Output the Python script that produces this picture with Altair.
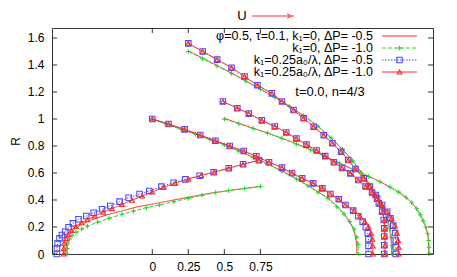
import altair as alt
import pandas as pd

# ---------------- axis ticks / domains ----------------
x_ticks = [0, 0.25, 0.5, 0.75]
y_ticks = [0, 0.2, 0.4, 0.6, 0.8, 1.0, 1.2, 1.4, 1.6]
x_domain = [-0.696, 1.948]
y_domain = [0, 1.674]

legend_labels = [
    "φ=0.5, τ=0.1, k₁=0, ΔP= -0.5",
    "k₁=0, ΔP= -1.0",
    "k₁=0.25a₀/λ, ΔP= -0.5",
    "k₁=0.25a₀/λ, ΔP= -1.0",
]
annotation = ["t=0.0, n=4/3"]
arrow_label = ["U"]
y_title = "R"

# ---------------- series 1: k1=0, dP=-0.5 (red solid) ----------------
s1_low_x = [-0.60, -0.60, -0.595, -0.585, -0.565, -0.535, -0.49, -0.43, -0.36, -0.28, -0.19, -0.10, 0.0, 0.10, 0.20, 0.30, 0.40, 0.50, 0.60, 0.75]
s1_low_r = [0.0, 0.04, 0.08, 0.12, 0.155, 0.19, 0.22, 0.25, 0.275, 0.30, 0.325, 0.35, 0.37, 0.39, 0.41, 0.43, 0.45, 0.465, 0.48, 0.50]
s1_a_x = [0.0, 0.1, 0.2, 0.3, 0.4, 0.5, 0.6, 0.7, 0.8, 0.9, 1.0, 1.08, 1.15, 1.22, 1.28, 1.33, 1.365, 1.393, 1.41, 1.418, 1.42]
s1_a_r = [1.0, 0.962, 0.926, 0.889, 0.85, 0.81, 0.765, 0.718, 0.668, 0.615, 0.558, 0.508, 0.46, 0.415, 0.355, 0.30, 0.245, 0.19, 0.13, 0.07, 0.0]
s1_b_x = [0.25, 0.35, 0.45, 0.55, 0.65, 0.75, 0.85, 0.95, 1.05, 1.15, 1.24, 1.32, 1.39, 1.45, 1.505, 1.555, 1.595, 1.625, 1.645, 1.655, 1.66, 1.66]
s1_b_r = [1.505, 1.451, 1.396, 1.34, 1.282, 1.222, 1.161, 1.096, 1.026, 0.946, 0.861, 0.776, 0.69, 0.605, 0.52, 0.435, 0.355, 0.275, 0.195, 0.12, 0.06, 0.0]
s1_c_x = [0.5, 0.6, 0.7, 0.8, 0.9, 1.0, 1.1, 1.2, 1.3, 1.4, 1.5, 1.58, 1.65, 1.71, 1.76, 1.80, 1.835, 1.86, 1.88, 1.898, 1.91, 1.916, 1.918, 1.918]
s1_c_r = [1.005, 0.968, 0.932, 0.896, 0.857, 0.816, 0.771, 0.723, 0.673, 0.623, 0.576, 0.536, 0.496, 0.458, 0.42, 0.38, 0.335, 0.29, 0.245, 0.2, 0.15, 0.1, 0.05, 0.0]

# ---------------- series 2: k1=0, dP=-1.0 (green dashed, +) ----------------
s2_low_x = [-0.59, -0.59, -0.585, -0.575, -0.557, -0.53, -0.49, -0.45, -0.38, -0.30, -0.21, -0.13, -0.04, 0.05, 0.15, 0.25, 0.345, 0.44, 0.53, 0.64, 0.75]
s2_low_r = [0.0, 0.04, 0.08, 0.11, 0.135, 0.16, 0.185, 0.207, 0.235, 0.264, 0.294, 0.318, 0.343, 0.363, 0.388, 0.412, 0.435, 0.455, 0.47, 0.485, 0.50]
s2_a_x = [0.0, 0.1, 0.2, 0.3, 0.4, 0.5, 0.6, 0.7, 0.8, 0.9, 1.0, 1.08, 1.15, 1.22, 1.28, 1.33, 1.37, 1.40, 1.418, 1.428, 1.43]
s2_a_r = [1.0, 0.96, 0.925, 0.888, 0.848, 0.808, 0.762, 0.715, 0.665, 0.612, 0.555, 0.505, 0.458, 0.412, 0.35, 0.295, 0.24, 0.185, 0.125, 0.07, 0.0]
s2_b_x = [0.25, 0.35, 0.45, 0.55, 0.65, 0.75, 0.85, 0.95, 1.05, 1.15, 1.24, 1.32, 1.39, 1.45, 1.51, 1.56, 1.60, 1.63, 1.65, 1.66, 1.665, 1.665]
s2_b_r = [1.50, 1.447, 1.393, 1.338, 1.28, 1.22, 1.16, 1.095, 1.025, 0.945, 0.86, 0.775, 0.69, 0.605, 0.515, 0.43, 0.35, 0.27, 0.19, 0.12, 0.06, 0.0]
s2_c_x = [0.5, 0.6, 0.7, 0.8, 0.9, 1.0, 1.1, 1.2, 1.3, 1.4, 1.5, 1.58, 1.65, 1.71, 1.76, 1.80, 1.835, 1.86, 1.88, 1.898, 1.912, 1.918, 1.92, 1.92]
s2_c_r = [1.0, 0.965, 0.93, 0.895, 0.856, 0.815, 0.77, 0.722, 0.672, 0.622, 0.575, 0.535, 0.495, 0.458, 0.42, 0.38, 0.335, 0.29, 0.245, 0.2, 0.15, 0.1, 0.05, 0.0]

# ---------------- series 3: k1=0.25a0/lambda, dP=-0.5 (blue dotted, squares) ----------------
s3_low_x = [-0.662, -0.662, -0.657, -0.644, -0.627, -0.604, -0.581, -0.551, -0.512, -0.458, -0.407, -0.349, -0.292, -0.227, -0.164, -0.088, -0.021, 0.063, 0.148, 0.229, 0.329, 0.426, 0.530, 0.63, 0.74]
s3_low_r = [0.0, 0.042, 0.079, 0.116, 0.141, 0.165, 0.198, 0.227, 0.257, 0.281, 0.306, 0.331, 0.356, 0.388, 0.417, 0.444, 0.467, 0.499, 0.528, 0.553, 0.580, 0.605, 0.635, 0.665, 0.695]
s3_a_x = [0.0, 0.113, 0.224, 0.333, 0.4375, 0.537, 0.634, 0.722, 0.81, 0.9, 0.97, 1.04, 1.116, 1.18, 1.236, 1.294, 1.34, 1.394, 1.43, 1.46, 1.482, 1.495, 1.5, 1.5, 1.5]
s3_a_r = [1.0, 0.963, 0.923, 0.881, 0.839, 0.80, 0.763, 0.724, 0.68, 0.64, 0.60, 0.56, 0.523, 0.486, 0.444, 0.405, 0.363, 0.321, 0.28, 0.24, 0.2, 0.155, 0.11, 0.06, 0.0]
s3_b_x = [0.25, 0.35, 0.45, 0.55, 0.64, 0.73, 0.83, 0.90, 0.98, 1.05, 1.12, 1.19, 1.25, 1.31, 1.36, 1.41, 1.468, 1.51, 1.55, 1.572, 1.595, 1.606, 1.61, 1.61, 1.61, 1.61]
s3_b_r = [1.56, 1.50, 1.44, 1.38, 1.315, 1.25, 1.19, 1.13, 1.067, 1.005, 0.943, 0.88, 0.82, 0.758, 0.696, 0.63, 0.56, 0.50, 0.437, 0.375, 0.313, 0.252, 0.19, 0.13, 0.065, 0.0]
s3_c_x = [0.49, 0.59, 0.67, 0.76, 0.85, 0.93, 1.0, 1.07, 1.14, 1.2, 1.26, 1.317, 1.375, 1.43, 1.48, 1.525, 1.56, 1.595, 1.63, 1.653, 1.672, 1.685, 1.69, 1.69, 1.69]
s3_c_r = [1.13, 1.08, 1.04, 0.99, 0.945, 0.9, 0.855, 0.81, 0.767, 0.725, 0.68, 0.638, 0.597, 0.548, 0.50, 0.455, 0.41, 0.363, 0.313, 0.264, 0.21, 0.155, 0.1, 0.05, 0.0]

# ---------------- series 4: k1=0.25a0/lambda, dP=-1.0 (red solid, triangles) ----------------
s4_low_x = [-0.615, -0.615, -0.612, -0.60, -0.585, -0.56, -0.53, -0.49, -0.45, -0.40, -0.34, -0.28, -0.21, -0.14, -0.07, 0.0, 0.08, 0.16, 0.25, 0.34, 0.43, 0.53, 0.63, 0.74]
s4_low_r = [0.0, 0.04, 0.08, 0.115, 0.145, 0.175, 0.205, 0.232, 0.255, 0.28, 0.31, 0.335, 0.368, 0.398, 0.43, 0.46, 0.495, 0.525, 0.555, 0.582, 0.607, 0.635, 0.665, 0.695]
s4_a_x = [0.0, 0.113, 0.224, 0.333, 0.4375, 0.537, 0.634, 0.722, 0.81, 0.9, 0.97, 1.04, 1.116, 1.18, 1.236, 1.294, 1.34, 1.40, 1.44, 1.475, 1.50, 1.518, 1.527, 1.53, 1.53]
s4_a_r = [1.0, 0.963, 0.923, 0.881, 0.839, 0.80, 0.763, 0.724, 0.68, 0.64, 0.60, 0.56, 0.523, 0.486, 0.444, 0.405, 0.363, 0.321, 0.28, 0.24, 0.2, 0.155, 0.11, 0.06, 0.0]
s4_b_x = [0.25, 0.35, 0.45, 0.55, 0.64, 0.73, 0.83, 0.90, 0.98, 1.05, 1.12, 1.19, 1.25, 1.31, 1.36, 1.41, 1.468, 1.51, 1.55, 1.575, 1.598, 1.61, 1.615, 1.615, 1.615, 1.615]
s4_b_r = [1.56, 1.50, 1.44, 1.38, 1.315, 1.25, 1.19, 1.13, 1.067, 1.005, 0.943, 0.88, 0.82, 0.758, 0.696, 0.63, 0.56, 0.50, 0.437, 0.375, 0.313, 0.252, 0.19, 0.13, 0.065, 0.0]
s4_c_x = [0.49, 0.59, 0.67, 0.76, 0.85, 0.93, 1.0, 1.07, 1.14, 1.2, 1.26, 1.317, 1.375, 1.43, 1.48, 1.525, 1.56, 1.595, 1.63, 1.66, 1.683, 1.698, 1.706, 1.71, 1.71]
s4_c_r = [1.13, 1.08, 1.04, 0.99, 0.945, 0.9, 0.855, 0.81, 0.767, 0.725, 0.68, 0.638, 0.597, 0.548, 0.50, 0.455, 0.41, 0.363, 0.313, 0.264, 0.21, 0.155, 0.1, 0.05, 0.0]

# ---------------- build tables ----------------
series_curves = {
    "s1": [(s1_low_x, s1_low_r), (s1_a_x, s1_a_r), (s1_b_x, s1_b_r), (s1_c_x, s1_c_r)],
    "s2": [(s2_low_x, s2_low_r), (s2_a_x, s2_a_r), (s2_b_x, s2_b_r), (s2_c_x, s2_c_r)],
    "s3": [(s3_low_x, s3_low_r), (s3_a_x, s3_a_r), (s3_b_x, s3_b_r), (s3_c_x, s3_c_r)],
    "s4": [(s4_low_x, s4_low_r), (s4_a_x, s4_a_r), (s4_b_x, s4_b_r), (s4_c_x, s4_c_r)],
}


def table(key):
    rows = []
    for ci, (xs_, rs_) in enumerate(series_curves[key]):
        for i, (xv, rv) in enumerate(zip(xs_, rs_)):
            rows.append({"curve": f"{key}_{ci}", "idx": i, "x": xv, "R": rv})
    return pd.DataFrame(rows)


W, H = 381, 226
FONT = "Liberation Sans"
RED = "#ff2a2a"
GREEN = "#2fd12f"
BLUE = "#4a4aff"
AXC = "#333333"
PLUS = "M-1,0L1,0M0,-1L0,1"

styles = {
    "s1": dict(color=RED, dash=[1, 0], shape=None, size=0),
    "s2": dict(color=GREEN, dash=[4, 2], shape=PLUS, size=22),
    "s3": dict(color=BLUE, dash=[1.5, 1.5], shape="square", size=30),
    "s4": dict(color=RED, dash=[1, 0], shape="triangle-up", size=22),
}

xs = alt.Scale(domain=x_domain, nice=False, zero=False)
ys = alt.Scale(domain=y_domain, nice=False, zero=False)
x_axis = alt.Axis(values=x_ticks, format="~g", tickSize=0, domain=False, grid=False,
                  labelPadding=7, title=None)
y_axis = alt.Axis(values=y_ticks, format="~g", tickSize=0, domain=False, grid=False,
                  labelPadding=8, title=y_title, titlePadding=5, titleFontWeight="normal",
                  titleFontSize=12, titleFont=FONT)


def X(field):
    return alt.X(field, scale=xs, axis=x_axis)


def Y(field):
    return alt.Y(field, scale=ys, axis=y_axis)


layers = []
for key in ["s1", "s2", "s3", "s4"]:
    st = styles[key]
    df = table(key)
    line = alt.Chart(df).mark_line(color=st["color"], strokeWidth=1, strokeDash=st["dash"]).encode(
        x=X("x:Q"), y=Y("R:Q"), detail="curve:N", order="idx:Q")
    layers.append(line)
    if st["shape"]:
        pts = alt.Chart(df).mark_point(shape=st["shape"], size=st["size"], filled=False,
                                       color=st["color"], strokeWidth=1.1, opacity=1).encode(
            x=X("x:Q"), y=Y("R:Q"))
        layers.append(pts)

# inner tick marks (gnuplot style, all four sides)
xt = pd.DataFrame({"x": x_ticks})
yt = pd.DataFrame({"R": y_ticks})
TL = 5
layers += [
    alt.Chart(xt).mark_rule(color=AXC).encode(x=X("x:Q"), y=alt.value(H), y2=alt.value(H - TL)),
    alt.Chart(xt).mark_rule(color=AXC).encode(x=X("x:Q"), y=alt.value(0), y2=alt.value(TL)),
    alt.Chart(yt).mark_rule(color=AXC).encode(y=Y("R:Q"), x=alt.value(0), x2=alt.value(TL)),
    alt.Chart(yt).mark_rule(color=AXC).encode(y=Y("R:Q"), x=alt.value(W - TL), x2=alt.value(W)),
]

# legend (gnuplot style, top right inside)
row_y = [8, 20, 32, 44]
text_x = 321
samp_x0, samp_x1 = 330, 365
LFS = 12.5
for k, key in enumerate(["s1", "s2", "s3", "s4"]):
    st = styles[key]
    ldf = pd.DataFrame({"label": [legend_labels[k]]})
    layers.append(alt.Chart(ldf).mark_text(align="right", baseline="middle", font=FONT, fontSize=LFS,
                                           color="black").encode(
        x=alt.value(text_x), y=alt.value(row_y[k]), text="label:N"))
    layers.append(alt.Chart(ldf).mark_rule(color=st["color"], strokeWidth=1, strokeDash=st["dash"]).encode(
        x=alt.value(samp_x0), x2=alt.value(samp_x1), y=alt.value(row_y[k])))
    if st["shape"]:
        layers.append(alt.Chart(ldf).mark_point(shape=st["shape"], size=st["size"], filled=False,
                                                color=st["color"], strokeWidth=1.1, opacity=1).encode(
            x=alt.value((samp_x0 + samp_x1) / 2), y=alt.value(row_y[k])))

# annotation
layers.append(alt.Chart(pd.DataFrame({"t": annotation})).mark_text(
    align="center", baseline="middle", font=FONT, fontSize=13, color="black").encode(
    x=alt.value(278), y=alt.value(64), text="t:N"))

# U arrow
layers.append(alt.Chart(pd.DataFrame({"t": arrow_label})).mark_text(
    align="center", baseline="middle", font=FONT, fontSize=13, color="black").encode(
    x=alt.value(190), y=alt.value(-12), text="t:N"))
layers.append(alt.Chart(pd.DataFrame({"t": arrow_label})).mark_rule(color=RED, strokeWidth=1).encode(
    x=alt.value(200), x2=alt.value(242), y=alt.value(-12)))
layers.append(alt.Chart(pd.DataFrame({"t": arrow_label})).mark_point(
    shape="M-1,-0.6L0,0L-1,0.6", filled=False, size=60, color=RED, strokeWidth=1, opacity=1).encode(
    x=alt.value(239), y=alt.value(-12)))

chart = alt.layer(*layers).properties(
    width=W, height=H,
    autosize=alt.AutoSizeParams(type="none"),
    padding={"left": 44, "top": 20, "right": 16, "bottom": 22},
).configure_view(stroke=AXC, strokeWidth=1).configure_axis(
    labelFont=FONT, labelFontSize=12, labelColor="black", titleColor="black")

chart.save("out.html", embed_options={"renderer": "svg", "actions": False})
